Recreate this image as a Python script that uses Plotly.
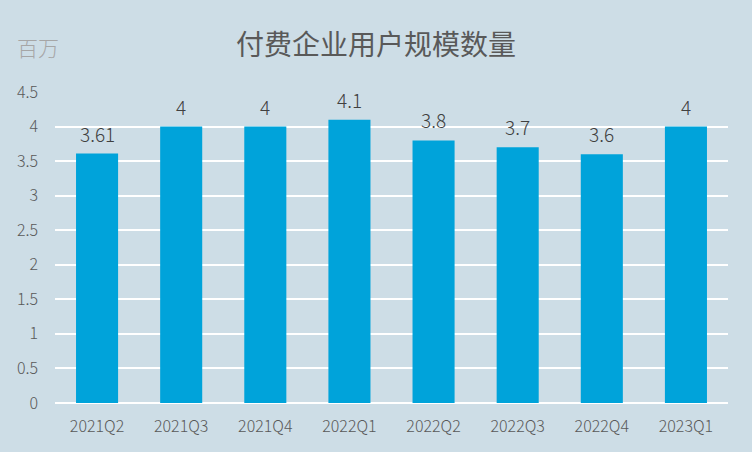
import plotly.graph_objects as go

categories = ["2021Q2", "2021Q3", "2021Q4", "2022Q1", "2022Q2", "2022Q3", "2022Q4", "2023Q1"]
values = [3.61, 4, 4, 4.1, 3.8, 3.7, 3.6, 4]
labels = ["3.61", "4", "4", "4.1", "3.8", "3.7", "3.6", "4"]
y_ticks = [0, 0.5, 1, 1.5, 2, 2.5, 3, 3.5, 4, 4.5]
y_tick_text = ["0", "0.5", "1", "1.5", "2", "2.5", "3", "3.5", "4", "4.5"]

font_family = "Noto Sans CJK SC, Noto Sans, sans-serif"

fig = go.Figure(
    go.Bar(
        x=categories,
        y=values,
        marker=dict(color="#00A3DA", line=dict(width=0)),
        width=0.5,
        hoverinfo="x+y",
    )
)

annotations = [
    dict(
        x=c,
        y=v,
        xref="x",
        yref="y",
        text=t,
        showarrow=False,
        yanchor="bottom",
        yshift=5,
        font=dict(size=19, color="#404040", family=font_family, weight=300),
    )
    for c, v, t in zip(categories, values, labels)
]
annotations.append(
    dict(
        text="百万",
        xref="paper",
        yref="paper",
        x=-40 / 673,
        y=1 + 45 / 311,
        xanchor="left",
        yanchor="middle",
        showarrow=False,
        font=dict(size=21, color="#A6A6A6", family=font_family, weight=300),
    )
)

fig.update_layout(
    width=752,
    height=452,
    paper_bgcolor="#CDDDE6",
    plot_bgcolor="#CDDDE6",
    margin=dict(l=55, r=24, t=92, b=49),
    showlegend=False,
    font=dict(family=font_family, color="#595959"),
    title=dict(
        text="付费企业用户规模数量",
        x=0.5,
        xanchor="center",
        y=1 - 45 / 452,
        yanchor="middle",
        font=dict(size=28, color="#595959", family=font_family, weight=400),
    ),
    annotations=annotations,
    xaxis=dict(
        showgrid=False,
        showline=False,
        ticks="",
        ticklabelstandoff=12,
        tickfont=dict(size=16, color="#595959", weight=300),
    ),
    yaxis=dict(
        range=[0, 4.5],
        tickvals=y_ticks,
        ticktext=y_tick_text,
        showgrid=True,
        gridcolor="#FFFFFF",
        gridwidth=2,
        zeroline=True,
        zerolinecolor="#FFFFFF",
        zerolinewidth=2,
        showline=False,
        ticks="",
        ticklabelstandoff=16,
        tickfont=dict(size=16, color="#595959", weight=300),
    ),
)

fig.write_html(
    "out.html",
    config={"displayModeBar": False},
    post_script="document.body.style.margin='0';document.body.style.padding='0';",
)
